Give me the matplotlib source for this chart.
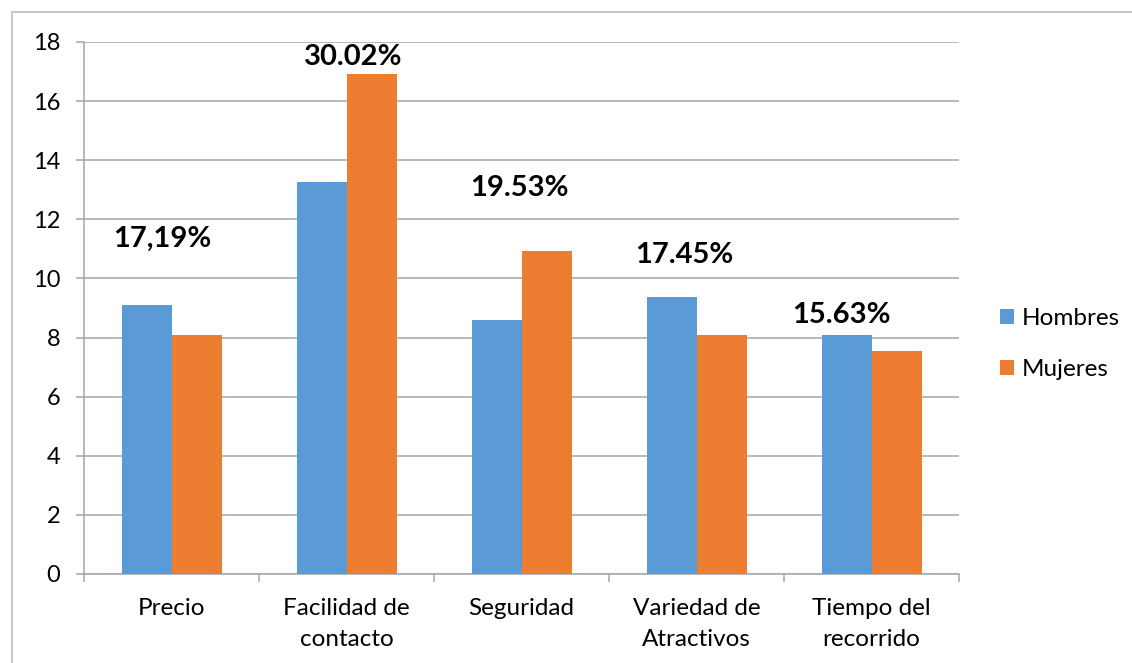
import numpy as np
import matplotlib.pyplot as plt
from matplotlib.patches import Rectangle

categories = ['Precio', 'Facilidad de\ncontacto', 'Seguridad', 'Variedad de\nAtractivos', 'Tiempo del\nrecorrido']
hombres = [9.11, 13.28, 8.59, 9.37, 8.07]
mujeres = [8.07, 16.93, 10.93, 8.07, 7.55]
totals = ['17,19%', '30.02%', '19.53%', '17.45%', '15.63%']

# where Excel left the total labels (x offset from category centre, y in data units)
label_dx = [-0.05, 0.04, -0.01, -0.07, -0.17]
label_y = [11.35, 17.5, 13.07, 10.81, 8.75]

blue = '#5B9BD5'
orange = '#ED7D31'
grey = '#A6A6A6'

plt.rcParams['font.family'] = ['Lato', 'DejaVu Sans']

fig = plt.figure(figsize=(11.32, 6.63), dpi=100)
ax = fig.add_axes([84 / 1132, 1 - 574 / 663, (959 - 84) / 1132, (574 - 42) / 663])

x = np.arange(len(categories))
w = 1 / 3.5  # gap width 150%
ax.bar(x - w / 2, hombres, w, color=blue, label='Hombres', zorder=3)
ax.bar(x + w / 2, mujeres, w, color=orange, label='Mujeres', zorder=3)

for i, t in enumerate(totals):
    ax.text(i + label_dx[i], label_y[i], t, ha='center', va='center',
            fontsize=21, fontweight='bold', color='black')

ax.set_xlim(-0.5, len(categories) - 0.5)
ax.set_ylim(0, 18)
ax.set_yticks(np.arange(0, 19, 2))
ax.yaxis.grid(True, color=grey, linewidth=1.1, zorder=0)
ax.set_axisbelow(True)

ax.set_xticks(x)
ax.set_xticklabels(categories, linespacing=1.6)
ax.set_xticks(np.arange(-0.5, len(categories), 1), minor=True)
ax.tick_params(axis='x', which='major', length=0, pad=17, labelsize=17.5)
ax.tick_params(axis='x', which='minor', length=6, width=1.1, color=grey)
ax.tick_params(axis='y', length=6, width=1.1, color=grey, pad=11, labelsize=17)

for s in ['top', 'right']:
    ax.spines[s].set_visible(False)
for s in ['left', 'bottom']:
    ax.spines[s].set_color(grey)
    ax.spines[s].set_linewidth(1.1)

fig.legend(loc='center left', bbox_to_anchor=(978 / 1132, 1 - 344 / 663), frameon=False,
           fontsize=17.5, handlelength=0.6, handleheight=0.6, handletextpad=0.3,
           labelspacing=1.25)

# chart area border (runs off the right and bottom of the picture)
fig.patches.append(Rectangle((12 / 1132, -0.1), 1.2, 1 - 12 / 663 + 0.1, transform=fig.transFigure,
                             fill=False, edgecolor='#BFBFBF', linewidth=1.2))

fig.savefig('out.png', dpi=100)
